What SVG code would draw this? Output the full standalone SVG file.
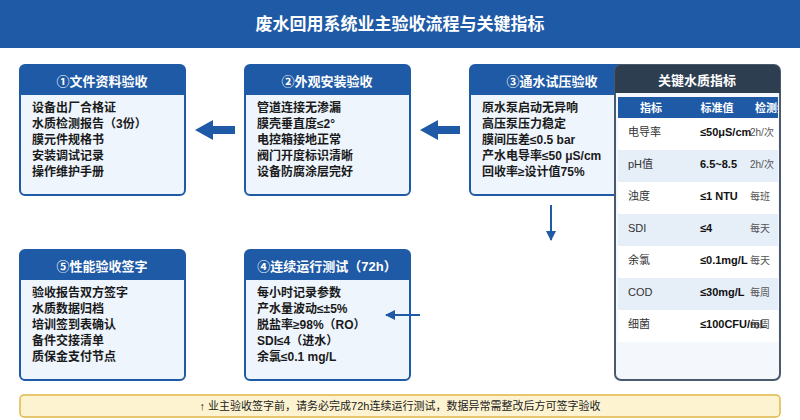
<svg xmlns="http://www.w3.org/2000/svg" width="800" height="420" viewBox="0 0 800 420">
<style>
text{font-family:"Liberation Sans","Noto Sans CJK SC",sans-serif}
.box{fill:#eef5fd;stroke:#1f5aa6;stroke-width:2}
.hd{fill:#1f5aa6}
.ht{fill:#fff;font-size:13px;font-weight:bold;text-anchor:middle}
.it{fill:#1a1a1a;font-size:12px;font-weight:bold}
.c1{fill:#333;font-size:11px}
.c2{fill:#111;font-size:11px;font-weight:bold}
.c3{fill:#555;font-size:10px}
.th{fill:#fff;font-size:11px;font-weight:bold;text-anchor:middle}
</style>
<defs>
<clipPath id="tc"><rect x="617" y="66" width="161" height="313"/></clipPath>
<marker id="ah" markerWidth="10" markerHeight="10" refX="9" refY="5" orient="auto" markerUnits="userSpaceOnUse"><path d="M0,0L10,5L0,10z" fill="#1f5aa6"/></marker>
</defs>
<rect width="800" height="420" fill="#fff"/>
<rect width="800" height="48" fill="#1f5aa6"/>
<text x="400" y="30" font-size="17" font-weight="bold" fill="#fff" text-anchor="middle">废水回用系统业主验收流程与关键指标</text>

<g id="n1"><rect class="box" x="20" y="65" width="165" height="130" rx="5"/><path class="hd" d="M20,70a5,5 0 0 1 5,-5h155a5,5 0 0 1 5,5v25h-165z"/>
<text class="ht" x="102" y="86">①文件资料验收</text>
<text class="it" x="32" y="112">设备出厂合格证</text><text class="it" x="32" y="128">水质检测报告（3份）</text><text class="it" x="32" y="144">膜元件规格书</text><text class="it" x="32" y="160">安装调试记录</text><text class="it" x="32" y="176">操作维护手册</text></g>

<g id="n2"><rect class="box" x="245" y="65" width="165" height="130" rx="5"/><path class="hd" d="M245,70a5,5 0 0 1 5,-5h155a5,5 0 0 1 5,5v25h-165z"/>
<text class="ht" x="327" y="86">②外观安装验收</text>
<text class="it" x="257" y="112">管道连接无渗漏</text><text class="it" x="257" y="128">膜壳垂直度≤2°</text><text class="it" x="257" y="144">电控箱接地正常</text><text class="it" x="257" y="160">阀门开度标识清晰</text><text class="it" x="257" y="176">设备防腐涂层完好</text></g>

<g id="n3"><rect class="box" x="470" y="65" width="165" height="130" rx="5"/><path class="hd" d="M470,70a5,5 0 0 1 5,-5h155a5,5 0 0 1 5,5v25h-165z"/>
<text class="ht" x="552" y="86">③通水试压验收</text>
<text class="it" x="482" y="112">原水泵启动无异响</text><text class="it" x="482" y="128">高压泵压力稳定</text><text class="it" x="482" y="144">膜间压差≤0.5 bar</text><text class="it" x="482" y="160">产水电导率≤50 μS/cm</text><text class="it" x="482" y="176">回收率≥设计值75%</text></g>

<g id="n4"><rect class="box" x="245" y="250" width="165" height="130" rx="5"/><path class="hd" d="M245,255a5,5 0 0 1 5,-5h155a5,5 0 0 1 5,5v25h-165z"/>
<text class="ht" x="327" y="271">④连续运行测试（72h）</text>
<text class="it" x="257" y="297">每小时记录参数</text><text class="it" x="257" y="313">产水量波动≤±5%</text><text class="it" x="257" y="329">脱盐率≥98%（RO）</text><text class="it" x="257" y="345">SDI≤4（进水）</text><text class="it" x="257" y="361">余氯≤0.1 mg/L</text></g>

<g id="n5"><rect class="box" x="20" y="250" width="165" height="130" rx="5"/><path class="hd" d="M20,255a5,5 0 0 1 5,-5h155a5,5 0 0 1 5,5v25h-165z"/>
<text class="ht" x="102" y="271">⑤性能验收签字</text>
<text class="it" x="32" y="297">验收报告双方签字</text><text class="it" x="32" y="313">水质数据归档</text><text class="it" x="32" y="329">培训签到表确认</text><text class="it" x="32" y="345">备件交接清单</text><text class="it" x="32" y="361">质保金支付节点</text></g>

<g id="connectors" fill="#1f5aa6">
<path d="M195,130L213,120V126H235V134H213V140z"/>
<path d="M420,130L438,120V126H460V134H438V140z"/>
<line x1="551" y1="205" x2="551" y2="240" stroke="#1f5aa6" stroke-width="2" marker-end="url(#ah)"/>
<line x1="420" y1="315" x2="386" y2="315" stroke="#1f5aa6" stroke-width="2" marker-end="url(#ah)"/>
</g>

<g id="table">
<rect x="615" y="65" width="165" height="315" rx="6" fill="#f4f7fb" stroke="#4a5a6e" stroke-width="2"/>
<path d="M615,71a6,6 0 0 1 6,-6h153a6,6 0 0 1 6,6v22h-165z" fill="#2c3e50"/>
<text x="697" y="85" font-size="13" font-weight="bold" fill="#fff" text-anchor="middle">关键水质指标</text>
<g clip-path="url(#tc)">
<rect x="618" y="97" width="165" height="21" fill="#1f5aa6"/>
<text class="th" x="651" y="112">指标</text><text class="th" x="717" y="112">标准值</text><text class="th" x="777" y="112">检测频率</text>
<rect x="618" y="118" width="160" height="32" fill="#fff"/>
<rect x="618" y="150" width="160" height="32" fill="#e6eef8"/>
<rect x="618" y="182" width="160" height="32" fill="#fff"/>
<rect x="618" y="214" width="160" height="32" fill="#e6eef8"/>
<rect x="618" y="246" width="160" height="32" fill="#fff"/>
<rect x="618" y="278" width="160" height="32" fill="#e6eef8"/>
<rect x="618" y="310" width="160" height="32" fill="#fff"/>
<text class="c1" x="628" y="136">电导率</text><text class="c2" x="700" y="136">≤50μS/cm</text><text class="c3" x="750" y="136">2h/次</text>
<text class="c1" x="628" y="168">pH值</text><text class="c2" x="700" y="168">6.5~8.5</text><text class="c3" x="750" y="168">2h/次</text>
<text class="c1" x="628" y="200">浊度</text><text class="c2" x="700" y="200">≤1 NTU</text><text class="c3" x="750" y="200">每班</text>
<text class="c1" x="628" y="232">SDI</text><text class="c2" x="700" y="232">≤4</text><text class="c3" x="750" y="232">每天</text>
<text class="c1" x="628" y="264">余氯</text><text class="c2" x="700" y="264">≤0.1mg/L</text><text class="c3" x="750" y="264">每天</text>
<text class="c1" x="628" y="296">COD</text><text class="c2" x="700" y="296">≤30mg/L</text><text class="c3" x="750" y="296">每周</text>
<text class="c1" x="628" y="328">细菌</text><text class="c2" x="700" y="328">≤100CFU/mL</text><text class="c3" x="750" y="328">每周</text>
</g>
</g>

<g id="note">
<rect x="20" y="395" width="760" height="22" rx="4" fill="#fdf3d0" stroke="#e0b84a" stroke-width="1.5"/>
<text x="400" y="410" font-size="11" fill="#222" text-anchor="middle">↑ 业主验收签字前，请务必完成72h连续运行测试，数据异常需整改后方可签字验收</text>
</g>
</svg>
